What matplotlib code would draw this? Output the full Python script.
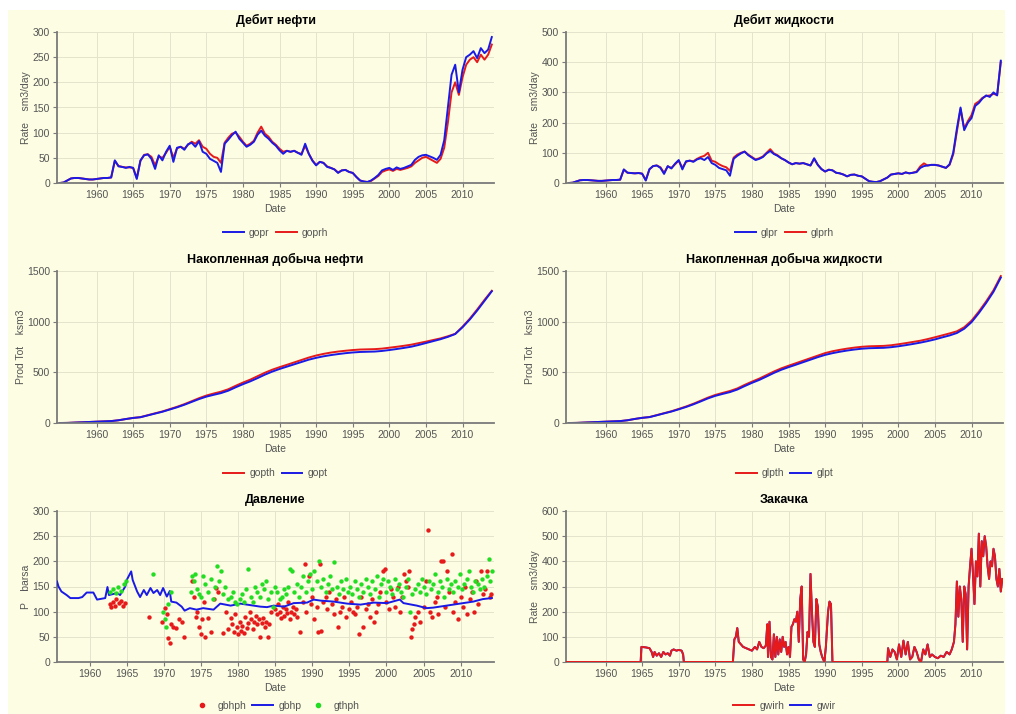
import numpy as np
import matplotlib
matplotlib.use("Agg")
import matplotlib.pyplot as plt
from matplotlib.patches import Rectangle
from matplotlib.lines import Line2D

plt.rcParams['font.family'] = ['Liberation Sans', 'DejaVu Sans']

# ---------------- data ----------------
# half-year time grid for rates (1955.0 ... 2014.0)
rate_t = np.arange(1955.0, 2014.01, 0.5)

gopr = [0, 1, 5, 9, 10, 10, 9, 8, 7, 7,
        8, 9, 10, 10, 11, 45, 33, 32, 30, 32,
        30, 8, 45, 55, 57, 48, 28, 55, 45, 62,
        74, 42, 70, 72, 66, 77, 80, 72, 83, 62,
        58, 48, 44, 40, 22, 78, 86, 95, 102, 88,
        80, 72, 76, 82, 96, 104, 94, 88, 80, 74,
        65, 58, 64, 62, 64, 60, 56, 78, 58, 44,
        35, 42, 40, 32, 30, 27, 20, 25, 26, 22,
        20, 12, 5, 3, 2, 5, 10, 16, 25, 28,
        30, 26, 31, 28, 30, 33, 36, 46, 52, 55,
        56, 53, 50, 46, 56, 85, 150, 215, 235, 180,
        225, 250, 255, 262, 248, 268, 258, 265, 290]

goprh = [0, 1, 5, 9, 10, 10, 9, 8, 7, 7,
         8, 9, 10, 10, 11, 44, 34, 32, 31, 31,
         30, 10, 44, 56, 57, 52, 35, 53, 50, 60,
         72, 50, 69, 72, 68, 76, 82, 78, 85, 72,
         68, 58, 52, 50, 40, 80, 90, 98, 100, 92,
         82, 74, 78, 84, 100, 112, 98, 92, 82, 76,
         68, 62, 64, 62, 64, 60, 58, 74, 58, 45,
         36, 42, 40, 33, 30, 27, 21, 25, 26, 22,
         20, 12, 5, 3, 2, 4, 9, 14, 22, 25,
         27, 24, 28, 26, 28, 30, 33, 40, 45, 50,
         52, 48, 44, 40, 48, 70, 120, 180, 200, 175,
         210, 235, 245, 250, 240, 255, 245, 255, 275]

glpr = [0, 1, 5, 9, 10, 10, 9, 8, 7, 7,
        8, 9, 10, 10, 11, 45, 34, 33, 32, 33,
        31, 8, 46, 56, 58, 50, 30, 56, 48, 64,
        76, 45, 72, 74, 70, 78, 82, 76, 86, 66,
        60, 50, 46, 42, 24, 80, 90, 98, 104, 92,
        84, 76, 80, 86, 98, 106, 96, 90, 82, 76,
        68, 62, 66, 64, 66, 62, 58, 82, 60, 46,
        38, 44, 42, 34, 32, 28, 22, 27, 28, 24,
        22, 14, 6, 4, 3, 6, 12, 18, 28, 30,
        32, 30, 35, 32, 34, 36, 50, 56, 58, 60,
        60, 58, 54, 50, 62, 100, 180, 250, 175, 200,
        215, 255, 265, 280, 290, 285, 300, 290, 405]

glprh = [0, 1, 5, 9, 10, 10, 9, 8, 7, 7,
         8, 9, 10, 10, 11, 44, 34, 33, 32, 33,
         31, 10, 45, 56, 58, 52, 34, 55, 50, 62,
         74, 50, 70, 74, 72, 80, 86, 90, 100, 74,
         70, 62, 56, 52, 40, 84, 94, 100, 104, 94,
         86, 78, 82, 88, 100, 112, 98, 92, 82, 76,
         68, 62, 66, 64, 66, 62, 58, 80, 60, 46,
         38, 44, 42, 34, 32, 28, 22, 27, 28, 24,
         22, 14, 6, 4, 3, 6, 12, 18, 28, 30,
         32, 30, 35, 32, 34, 38, 55, 65, 58, 60,
         60, 58, 54, 50, 60, 95, 170, 245, 180, 205,
         225, 262, 270, 282, 288, 290, 295, 292, 400]

# yearly grid for cumulative production
cum_t = np.arange(1955, 2015)

gopth = [0, 1, 4, 7, 10, 13, 16, 19, 27, 39,
         50, 58, 77, 96, 114, 137, 160, 186, 215, 245,
         271, 291, 309, 333, 367, 399, 428, 462, 496, 526,
         551, 574, 598, 622, 646, 666, 682, 695, 705, 713,
         720, 725, 727, 729, 734, 743, 752, 762, 773, 788,
         803, 819, 835, 856, 880, 950, 1030, 1120, 1215, 1305]

gopt = [0, 1, 4, 7, 10, 13, 16, 19, 27, 39,
        50, 57, 75, 93, 111, 133, 155, 180, 208, 236,
        260, 278, 295, 319, 352, 383, 411, 443, 477, 507,
        533, 556, 579, 602, 625, 643, 658, 670, 680, 689,
        696, 701, 703, 705, 711, 720, 730, 741, 753, 770,
        789, 808, 827, 850, 878, 945, 1022, 1110, 1205, 1300]

glpth = [0, 1, 4, 7, 10, 13, 16, 19, 27, 40,
         51, 59, 78, 97, 116, 139, 163, 190, 220, 251,
         277, 297, 316, 341, 376, 408, 438, 473, 508, 539,
         565, 590, 615, 640, 665, 690, 708, 722, 734, 744,
         752, 757, 759, 761, 767, 777, 788, 800, 812, 828,
         846, 865, 884, 905, 945, 1010, 1100, 1200, 1310, 1450]

glpt = [0, 1, 4, 7, 10, 13, 16, 19, 27, 40,
        51, 58, 76, 95, 113, 135, 158, 184, 213, 243,
        268, 287, 305, 330, 364, 396, 425, 459, 494, 525,
        551, 575, 600, 625, 650, 672, 689, 703, 715, 725,
        733, 738, 740, 742, 748, 757, 768, 780, 793, 808,
        825, 845, 864, 888, 930, 995, 1085, 1185, 1295, 1435]

# pressure: simulated BHP line
gbhp_t = [1955.6, 1955.8, 1956.2, 1956.9, 1957.4, 1958.5, 1959.0, 1959.6, 1960.5,
          1961.0, 1962.1, 1962.4, 1962.6, 1963.7, 1964.1, 1964.8, 1965.0, 1965.6,
          1965.8, 1966.4, 1966.8, 1967.3, 1967.7, 1968.2, 1968.6, 1969.1, 1969.5,
          1969.9, 1970.4, 1970.8, 1971.0, 1971.7, 1972.4, 1972.8, 1973.5, 1974.4,
          1975.3, 1976.7, 1977.6, 1979.0, 1980.3, 1983.0, 1983.9, 1984.8, 1986.2,
          1987.5, 1989.3, 1990.2, 1991.1, 1992.9, 1994.7, 1996.5, 1998.3, 2000.1,
          2001.8, 2002.3, 2004.1, 2005.4, 2006.3, 2008.1, 2009.9, 2011.7, 2013.0, 2014.2]
gbhp = [160, 150, 140, 133, 127, 127, 129, 138, 138,
        124, 127, 149, 133, 137, 133, 150, 163, 180,
        163, 140, 129, 143, 133, 147, 137, 143, 133,
        147, 130, 141, 120, 118, 110, 102, 107, 104,
        107, 104, 116, 112, 116, 110, 109, 112, 110,
        117, 118, 124, 122, 120, 116, 114, 118, 117,
        124, 117, 112, 107, 108, 112, 116, 120, 125, 127]

# pressure: historical BHP points
gbhph_t = [1962.7, 1962.9, 1963.1, 1963.4, 1963.6, 1963.9, 1964.2, 1964.5, 1964.7,
           1968.0, 1969.8, 1970.2, 1970.4, 1970.6, 1970.8, 1971.0, 1971.3, 1971.6, 1972.0, 1972.4, 1972.7,
           1973.8, 1974.0, 1974.3, 1974.5, 1974.8, 1975.0, 1975.2, 1975.4, 1975.6, 1976.0, 1976.4, 1976.8, 1977.0, 1977.3,
           1978.0, 1978.4, 1978.7, 1979.0, 1979.2, 1979.4, 1979.6, 1979.8, 1980.0, 1980.2, 1980.4, 1980.6, 1980.8,
           1981.0, 1981.2, 1981.4, 1981.6, 1981.8, 1982.0, 1982.2, 1982.4, 1982.6, 1982.8, 1983.0, 1983.2, 1983.4,
           1983.6, 1983.8, 1984.0, 1984.2, 1984.4,
           1985.0, 1985.2, 1985.4, 1985.6, 1985.8, 1986.0, 1986.2, 1986.4, 1986.6, 1986.8, 1987.0, 1987.2, 1987.4,
           1987.6, 1987.8, 1988.0, 1988.4, 1988.7, 1989.0, 1989.2, 1989.5, 1989.8,
           1990.0, 1990.3, 1990.6, 1990.8, 1991.0, 1991.2, 1991.5, 1991.8, 1992.0, 1992.3, 1992.6, 1992.9, 1993.2,
           1993.5, 1993.8, 1994.0, 1994.3, 1994.6, 1994.9,
           1995.2, 1995.5, 1995.8, 1996.0, 1996.3, 1996.6, 1996.9, 1997.2, 1997.5, 1997.8, 1998.0, 1998.3, 1998.6,
           1998.9, 1999.2, 1999.5, 1999.8,
           2000.0, 2000.3, 2000.6, 2000.9, 2001.2, 2001.5, 2001.8, 2002.1, 2002.4, 2002.7, 2002.9, 2003.1, 2003.3,
           2003.5, 2003.7, 2003.9, 2004.2, 2004.5,
           2005.0, 2005.3, 2005.6, 2005.9, 2006.2, 2006.5, 2006.8, 2007.0, 2007.3, 2007.6, 2007.9, 2008.2, 2008.5,
           2008.8, 2009.0, 2009.3, 2009.6,
           2010.0, 2010.3, 2010.6, 2010.9, 2011.2, 2011.5, 2011.8, 2012.1, 2012.4, 2012.7, 2013.0, 2013.3, 2013.6,
           2013.9, 2014.1]
gbhph = [115, 110, 120, 112, 125, 118, 122, 112, 118,
         90, 80, 108, 95, 48, 38, 75, 70, 68, 85, 80, 50,
         160, 130, 90, 100, 70, 55, 85, 120, 50, 88, 60, 125, 148, 140,
         58, 100, 65, 88, 75, 60, 95, 70, 55, 80, 62, 72, 58,
         90, 68, 78, 100, 85, 65, 80, 92, 75, 86, 50, 78, 88,
         70, 80, 50, 75, 100,
         105, 95, 115, 100, 88, 110, 92, 105, 98, 120, 85, 100, 110,
         95, 105, 90, 60, 120, 195, 100, 170, 115,
         130, 85, 110, 60, 195, 62, 120, 130, 105, 140, 115, 95, 125,
         70, 100, 110, 130, 90, 105,
         120, 100, 95, 110, 55, 130, 70, 105, 115, 90, 125, 80, 100,
         115, 140, 180, 185,
         120, 105, 145, 130, 110, 150, 100, 130, 175, 160, 150, 180, 50,
         65, 75, 90, 100, 80,
         110, 160, 262, 100, 90, 120, 130, 95, 200, 200, 110, 180, 140,
         215, 100, 120, 85,
         130, 110, 150, 95, 125, 140, 100, 160, 115, 180, 135, 145, 180,
         130, 135]

# pressure: historical THP points
gthph_t = [1962.8, 1963.2, 1963.5, 1963.8, 1964.2, 1964.6, 1964.9,
           1968.6, 1969.9, 1970.1, 1970.3, 1970.5, 1971.0,
           1973.6, 1973.8, 1974.0, 1974.2, 1974.5, 1974.8, 1975.0, 1975.3, 1975.6, 1976.0, 1976.3, 1976.6,
           1976.9, 1977.1, 1977.4, 1977.7, 1978.0, 1978.3, 1978.6,
           1979.0, 1979.3, 1979.6, 1979.9, 1980.2, 1980.5, 1980.8, 1981.1, 1981.4, 1981.7, 1982.0, 1982.3,
           1982.6, 1982.9, 1983.2, 1983.5, 1983.8, 1984.1, 1984.4, 1984.7, 1985.0,
           1985.3, 1985.6, 1985.9, 1986.2, 1986.5, 1986.8, 1987.0, 1987.3, 1987.6, 1987.9, 1988.2, 1988.5,
           1988.8, 1989.1, 1989.4, 1989.7, 1990.0,
           1990.3, 1990.6, 1990.9, 1991.2, 1991.5, 1991.8, 1992.1, 1992.4, 1992.7, 1993.0, 1993.3, 1993.6,
           1993.9, 1994.2, 1994.5, 1994.8, 1995.1,
           1995.4, 1995.7, 1996.0, 1996.3, 1996.6, 1996.9, 1997.2, 1997.5, 1997.8, 1998.1, 1998.4, 1998.7,
           1999.0, 1999.3, 1999.6, 1999.9,
           2000.2, 2000.5, 2000.8, 2001.1, 2001.4, 2001.7, 2002.0, 2002.3, 2002.6, 2002.9, 2003.2, 2003.5, 2003.8,
           2004.2, 2004.5, 2004.8, 2005.1, 2005.4, 2005.7, 2006.0, 2006.3, 2006.6, 2006.9, 2007.2, 2007.5,
           2007.8, 2008.1, 2008.4, 2008.7, 2009.0,
           2009.3, 2009.6, 2009.9, 2010.2, 2010.5, 2010.8, 2011.1, 2011.4, 2011.7, 2012.0, 2012.3, 2012.6,
           2012.9, 2013.2, 2013.5, 2013.8, 2014.0, 2014.2]
gthph = [140, 145, 138, 150, 142, 155, 160,
         175, 100, 85, 70, 115, 140,
         140, 170, 160, 175, 145, 135, 130, 170, 155, 140, 165, 125,
         150, 190, 160, 180, 135, 150, 125,
         130, 140, 120, 115, 125, 135, 120, 145, 185, 130, 120, 150,
         140, 130, 155, 145, 160, 125, 140, 110, 150,
         140, 125, 130, 145, 135, 150, 185, 180, 140, 155, 130, 150,
         170, 140, 160, 175, 145,
         180, 160, 200, 150, 165, 140, 155, 170, 145, 198, 150, 135,
         160, 145, 165, 140, 150,
         135, 160, 145, 130, 155, 140, 165, 150, 135, 160, 145, 170,
         130, 155, 165, 140,
         160, 150, 135, 165, 145, 155, 140, 130, 150, 165, 100, 135, 145,
         155, 140, 165, 150, 135, 160, 145, 155, 175, 140, 160, 150,
         130, 165, 145, 155, 140,
         160, 150, 175, 145, 155, 165, 180, 150, 140, 160, 155, 145,
         165, 150, 170, 205, 160, 180]

# water injection
inj_t = [1954.6, 1964.8, 1964.9, 1965.5, 1966.0, 1966.3, 1966.5, 1966.7, 1967.0, 1967.3, 1967.6, 1967.9,
         1968.2, 1968.5, 1968.8, 1969.0, 1969.3, 1969.7, 1970.0, 1970.4, 1970.6, 1970.7,
         1977.4, 1977.6, 1977.8, 1978.0, 1978.2, 1978.5, 1978.8, 1979.2, 1979.6, 1980.0, 1980.4, 1980.7,
         1981.0, 1981.3, 1981.6, 1981.9, 1982.1, 1982.2, 1982.4, 1982.6, 1982.8, 1983.0, 1983.2, 1983.4,
         1983.6, 1983.8, 1984.0, 1984.2, 1984.4, 1984.6, 1984.8, 1985.0, 1985.2, 1985.4, 1985.6, 1985.8,
         1986.0, 1986.2, 1986.4, 1986.6, 1986.8, 1987.0, 1987.2, 1987.4, 1987.6, 1987.8, 1988.0, 1988.2,
         1988.4, 1988.6, 1988.8, 1989.0, 1989.2, 1989.4, 1989.6, 1989.9, 1990.1, 1990.4, 1990.6, 1990.8,
         1991.0, 1998.5, 1998.6, 1998.9, 1999.2, 1999.5, 1999.8, 2000.1, 2000.4, 2000.7, 2001.0, 2001.3,
         2001.6, 2001.9, 2002.2, 2002.5, 2002.8, 2003.1, 2003.4, 2003.7, 2004.0, 2004.3, 2004.6, 2005.0,
         2005.4, 2005.8, 2006.2, 2006.6, 2007.0, 2007.3, 2007.6, 2007.8, 2008.0, 2008.2, 2008.4, 2008.6,
         2008.8, 2009.0, 2009.2, 2009.4, 2009.6, 2009.8, 2010.0, 2010.2, 2010.4, 2010.6, 2010.8, 2011.0,
         2011.2, 2011.4, 2011.6, 2011.8, 2012.0, 2012.2, 2012.4, 2012.6, 2012.8, 2013.0, 2013.2, 2013.4,
         2013.6, 2013.8, 2014.0, 2014.2]
gwirh = [0, 0, 60, 58, 55, 40, 20, 40, 25, 35, 20, 40,
         30, 35, 25, 45, 50, 45, 48, 45, 30, 0,
         0, 90, 100, 135, 80, 70, 60, 55, 50, 45, 60, 50,
         80, 60, 55, 65, 150, 20, 160, 20, 10, 110, 20, 100,
         30, 90, 40, 100, 60, 80, 30, 60, 20, 140, 150, 170,
         160, 200, 80, 250, 300, 10, 0, 30, 120, 100, 350, 200,
         80, 60, 250, 220, 70, 40, 20, 0, 60, 200, 240, 230,
         0, 0, 55, 20, 50, 40, 10, 70, 20, 85, 30, 80,
         10, 20, 60, 40, 10, 0, 50, 30, 70, 20, 30, 20,
         15, 25, 20, 40, 30, 50, 80, 150, 320, 180, 300, 250,
         80, 300, 270, 50, 300, 380, 450, 350, 230, 400, 340, 510,
         300, 480, 420, 500, 460, 380, 330, 400, 380, 450, 420, 330,
         300, 370, 280, 330]
gwir = gwirh  # simulated injection equals the historical (rate-controlled)

x_ticks = [1960, 1965, 1970, 1975, 1980, 1985, 1990, 1995, 2000, 2005, 2010]

# ---------------- style ----------------
BG = '#fdfde3'
GRID = '#e4e4cc'
SPINE = '#7a7a7a'
TXT = '#555555'
BLUE = '#1a1ae6'
RED = '#e61a1a'
GREEN = '#22dd22'

fig = plt.figure(figsize=(10.16, 7.14), dpi=100)
fig.patch.set_facecolor('white')
fig.patches.append(Rectangle((8 / 1016, 0), 997 / 1016, 1 - 10 / 714,
                             transform=fig.transFigure, facecolor=BG,
                             edgecolor='none', zorder=-10))

lefts = [57 / 1016, 566 / 1016]
width = 437 / 1016
rows = [(1 - 183 / 714, 151 / 714), (1 - 423 / 714, 152 / 714), (1 - 662 / 714, 151 / 714)]


def make_ax(col, row, title, ylabel, ymax, ystep, xlim):
    b, h = rows[row]
    ax = fig.add_axes([lefts[col], b, width, h])
    ax.set_facecolor('none')
    for s in ['top', 'right']:
        ax.spines[s].set_visible(False)
    for s in ['left', 'bottom']:
        ax.spines[s].set_color(SPINE)
        ax.spines[s].set_linewidth(1.3)
    ax.set_xlim(*xlim)
    ax.set_ylim(0, ymax)
    ax.set_xticks(x_ticks)
    ax.set_yticks(np.arange(0, ymax + 1, ystep))
    ax.tick_params(axis='both', colors=SPINE, labelcolor=TXT, labelsize=7.5,
                   length=3, width=0.8, pad=2)
    ax.grid(True, color=GRID, linewidth=0.7)
    ax.set_axisbelow(True)
    ax.set_title(title, fontsize=9, fontweight='bold', color='black', pad=6)
    ax.set_ylabel(ylabel, fontsize=7.5, color=TXT, labelpad=1)
    ax.set_xlabel('Date', fontsize=7.5, color=TXT, labelpad=3)
    return ax


def legend(ax, handles, labels, y=-0.33):
    ax.legend(handles, labels, loc='center', bbox_to_anchor=(0.5, y),
              ncol=len(handles), frameon=False, fontsize=7.5, labelcolor=TXT,
              handlelength=2.0, handletextpad=0.5, columnspacing=0.6,
              borderaxespad=0)


XL = (1954.6, 2014.3)
LW = 1.4

# 1. oil rate
ax = make_ax(0, 0, 'Дебит нефти', 'Rate    sm3/day', 300, 50, XL)
l2, = ax.plot(rate_t, goprh, color=RED, lw=LW)
l1, = ax.plot(rate_t, gopr, color=BLUE, lw=LW)
legend(ax, [l1, l2], ['gopr', 'goprh'])

# 2. liquid rate
ax = make_ax(1, 0, 'Дебит жидкости', 'Rate    sm3/day', 500, 100, XL)
l2, = ax.plot(rate_t, glprh, color=RED, lw=LW)
l1, = ax.plot(rate_t, glpr, color=BLUE, lw=LW)
legend(ax, [l1, l2], ['glpr', 'glprh'])

# 3. cumulative oil
ax = make_ax(0, 1, 'Накопленная добыча нефти', 'Prod Tot    ksm3', 1500, 500, XL)
l1, = ax.plot(cum_t, gopth, color=RED, lw=LW)
l2, = ax.plot(cum_t, gopt, color=BLUE, lw=LW)
legend(ax, [l1, l2], ['gopth', 'gopt'])

# 4. cumulative liquid
ax = make_ax(1, 1, 'Накопленная добыча жидкости', 'Prod Tot    ksm3', 1500, 500, XL)
l1, = ax.plot(cum_t, glpth, color=RED, lw=LW)
l2, = ax.plot(cum_t, glpt, color=BLUE, lw=LW)
legend(ax, [l1, l2], ['glpth', 'glpt'])

# 5. pressure
ax = make_ax(0, 2, 'Давление', 'P    barsa', 300, 50, (1955.6, 2014.5))
ax.scatter(gbhph_t, gbhph, s=10, color=RED, linewidths=0, zorder=2)
l2, = ax.plot(gbhp_t, gbhp, color=BLUE, lw=LW, zorder=3)
ax.scatter(gthph_t, gthph, s=10, color=GREEN, linewidths=0, zorder=4)
h1 = Line2D([], [], color=RED, marker='o', ls='none', markersize=3)
h3 = Line2D([], [], color=GREEN, marker='o', ls='none', markersize=3)
legend(ax, [h1, l2, h3], ['gbhph', 'gbhp', 'gthph'], y=-0.29)

# 6. injection
ax = make_ax(1, 2, 'Закачка', 'Rate    sm3/day', 600, 100, XL)
l2, = ax.plot(inj_t, gwir, color=BLUE, lw=LW, zorder=2)
l1, = ax.plot(inj_t, gwirh, color=RED, lw=LW, zorder=3)
legend(ax, [l1, l2], ['gwirh', 'gwir'], y=-0.29)

fig.savefig('out.png', dpi=100)
